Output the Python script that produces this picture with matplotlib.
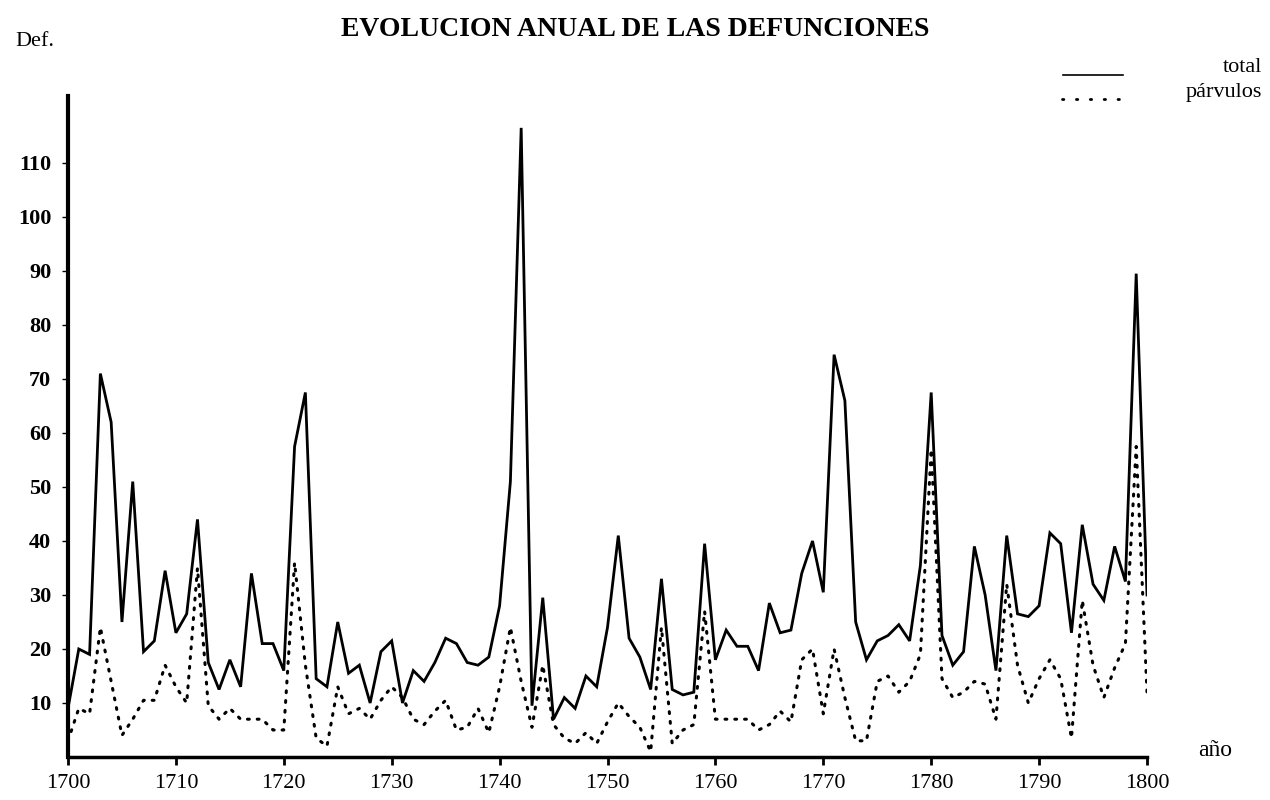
import matplotlib.pyplot as plt
import numpy as np

years = np.arange(1700, 1801)

# Defunciones totales por año
total = [9, 20, 19, 71, 62, 25, 51, 19.5, 21.5, 34.5,
         23, 26.5, 44, 17.5, 12.5, 18, 13, 34, 21, 21,
         16, 57.5, 67.5, 14.5, 13, 25, 15.5, 17, 10, 19.5,
         21.5, 10, 16, 14, 17.5, 22, 21, 17.5, 17, 18.5,
         28, 51, 116.5, 9.5, 29.5, 7, 11, 9, 15, 13,
         24, 41, 22, 18.5, 12.5, 33, 12.5, 11.5, 12, 39.5,
         18, 23.5, 20.5, 20.5, 16, 28.5, 23, 23.5, 34, 40,
         30.5, 74.5, 66, 25, 18, 21.5, 22.5, 24.5, 21.5, 35.5,
         67.5, 22.5, 17, 19.5, 39, 30, 16, 41, 26.5, 26,
         28, 41.5, 39.5, 23, 43, 32, 29, 39, 32.5, 89.5,
         30]

# Defunciones de párvulos
parvulos = [3, 9, 8, 24, 14, 4, 7, 10.5, 10.5, 17,
            13, 10, 35, 9.5, 7, 9, 7, 7, 7, 5,
            5, 36, 17, 3.5, 2, 13, 8, 9, 7, 10.5,
            13, 11, 7, 6, 8.5, 10.5, 5, 5.5, 9, 4.5,
            13, 24, 14, 5.5, 17, 6, 3.5, 2.5, 4.5, 2.5,
            6.5, 10, 7.5, 5.5, 1, 24, 2.5, 5, 6, 27,
            7, 7, 7, 7, 5, 6, 8.5, 6.5, 18, 20,
            8, 20, 11, 3, 3, 14, 15, 12, 14, 19,
            57, 14.5, 11, 12, 14, 13.5, 7, 32, 17, 10,
            14.5, 18, 14.5, 3.5, 29, 17, 11, 16.5, 21, 57.5,
            12]

xticks = list(range(1700, 1801, 10))
yticks = list(range(10, 111, 10))

plt.rcParams['font.family'] = ['Liberation Serif', 'DejaVu Serif']

fig = plt.figure(figsize=(12.7, 8), dpi=100)
ax = fig.add_axes([68 / 1270, 1 - 757 / 800, (1147 - 68) / 1270, (757 - 96) / 800])

ax.plot(years, total, color='black', lw=2.0, solid_joinstyle='miter')
ax.plot(years, parvulos, color='black', lw=2.2, linestyle=(0, (0.6, 2.6)),
        dash_capstyle='round')

ax.set_xlim(1700, 1800)
ax.set_ylim(0, 122.4)
ax.spines['top'].set_visible(False)
ax.spines['right'].set_visible(False)
ax.spines['left'].set_linewidth(3)
ax.spines['bottom'].set_linewidth(2.5)

ax.set_xticks(xticks)
ax.set_xticklabels([str(x) for x in xticks], fontsize=16)
ax.set_yticks(yticks)
ax.set_yticklabels([str(y) for y in yticks], fontsize=16, fontweight='bold')
ax.tick_params(axis='x', length=6, width=2, pad=6)
ax.tick_params(axis='y', length=4, width=1, pad=8)

# Textos
fig.text(0.5, 1 - 30 / 800, 'EVOLUCION ANUAL DE LAS DEFUNCIONES', ha='center',
         va='center', fontsize=20, fontweight='bold')
fig.text(15 / 1270, 1 - 42 / 800, 'Def.', ha='left', va='center', fontsize=16)
fig.text(1198 / 1270, 1 - 750 / 800, 'año', ha='left', va='center', fontsize=17)

# Leyenda
fig.add_artist(plt.Line2D([1063 / 1270, 1123 / 1270], [1 - 75 / 800, 1 - 75 / 800],
                          color='black', lw=1.2))
fig.text(1262 / 1270, 1 - 68 / 800, 'total', ha='right', va='center', fontsize=16)
fig.add_artist(plt.Line2D([1062 / 1270, 1125 / 1270], [1 - 99 / 800, 1 - 99 / 800],
                          color='black', lw=2, linestyle=(0, (0.5, 4.5)),
                          dash_capstyle='round'))
fig.text(1262 / 1270, 1 - 93 / 800, 'párvulos', ha='right', va='center', fontsize=16)

fig.savefig('out.png', dpi=100)
